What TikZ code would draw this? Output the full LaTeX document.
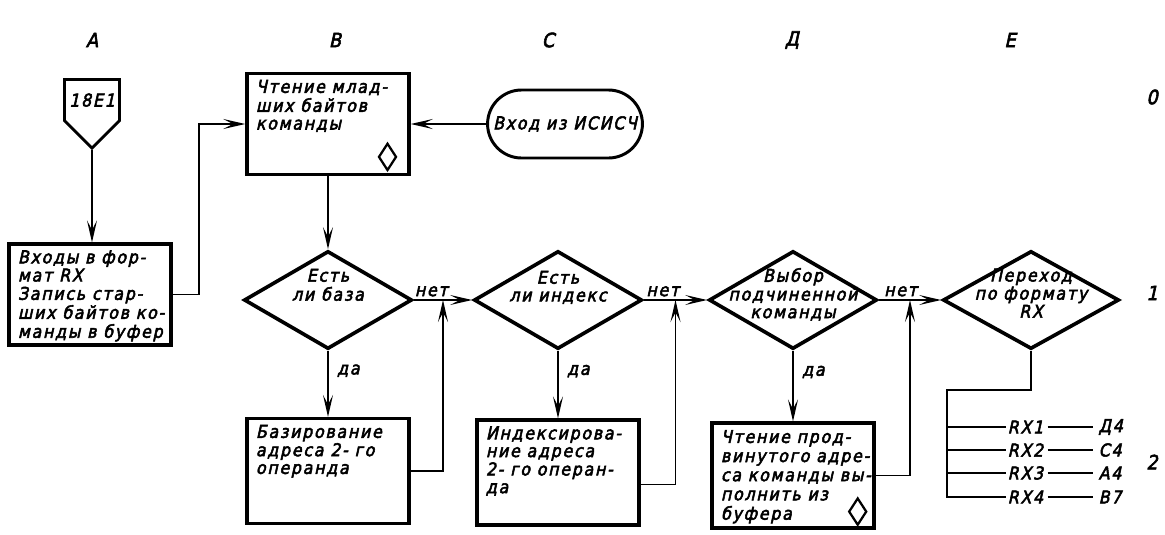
\documentclass[tikz,border=0pt]{standalone}
\usepackage{fontspec}
\newfontfamily\drafting{DejaVu Sans Condensed}[FakeSlant=0.22, FakeBold=3, LetterSpace=10]
\newcommand{\dfont}{\drafting\fontsize{12.5pt}{12.6pt}\selectfont}
\usetikzlibrary{shapes.geometric, shapes.misc, shapes.symbols, arrows.meta, positioning, calc}

% text of a process box: lines from the top left corner
\newcommand{\boxtext}[2][2.2cm]{\parbox[t][#1][t]{3.6cm}{\begin{tabular}{@{}l@{}}#2\end{tabular}}}
% text of a decision: takes no room, so the diamond keeps its size
\newcommand{\dtext}[2][0pt]{\makebox[0pt]{\raisebox{#1}[0pt][0pt]{\begin{tabular}{@{}c@{}}#2\end{tabular}}}}

\begin{document}
\begin{tikzpicture}[
  x=0.025cm, y=-0.025cm,
  every node/.style={font=\dfont},
  proc/.style={
    rectangle, draw, line width=2.4pt,
    inner xsep=0.225cm, inner ysep=0.16cm},
  cond/.style={
    diamond, draw, line width=2.6pt, inner sep=0pt,
    minimum width=4.2cm, minimum height=2.45cm},
  term/.style={
    rounded rectangle, draw, line width=2.1pt,
    minimum width=3.8cm, minimum height=1.7cm},
  offpage/.style={
    signal, signal to=south, signal from=nowhere,
    draw, line width=2pt, minimum width=1.25cm, minimum height=1.72cm},
  diamark/.style={
    diamond, draw, line width=1.6pt, inner sep=0pt,
    minimum width=0.45cm, minimum height=0.68cm},
  arr/.style={-{Stealth[length=5.5mm,width=2.5mm,inset=2.4mm]}, line width=1.2pt},
  conn/.style={line width=1.2pt},
  lbl/.style={inner sep=2pt},
  rxlbl/.style={anchor=west, inner sep=1pt},
  axislbl/.style={inner sep=0pt, font=\drafting\fontsize{14pt}{14pt}\selectfont},
]
\useasboundingbox (0,0) rectangle (1165,534);

% column and row marks
\foreach \c/\x [count=\n] in {A/92, B/335, C/548, Д/792, E/1010}
  \node[axislbl] (col\n) at (\x,40) {\c};
\foreach \r/\y in {0/97, 1/293, 2/462}
  \node[axislbl] (row\r) at (1152,\y) {\r};

% blocks
\node[offpage, anchor=north] (e18) at (92,78) {18E1};
\node[proc] (ent) at (90,294.5)
  {\boxtext{Входы в фор-\\мат RX\\Запись стар-\\ших байтов ко-\\манды в буфер}};
\node[proc] (rdlo) at (328,124)
  {\boxtext{Чтение млад-\\ших байтов\\команды}};
\node[diamark] (rdlomark) at ([xshift=-0.58cm, yshift=0.48cm]rdlo.south east) {};
\node[term] (isisch) at (565,124) {Вход из ИСИСЧ};

\node[cond] (base)   at (328,300) {\dtext[6pt]{Есть\\ли база}};
\node[cond] (index)  at (558,300) {\dtext[5pt]{Есть\\ли индекс}};
\node[cond] (subcmd) at (793,300) {\dtext{Выбор\\подчиненной\\команды}};
\node[cond, minimum width=4.4cm] (fmt) at (1031,300) {\dtext{Переход\\по формату\\RX}};

\node[proc] (based) at (328,471)
  {\boxtext[2.3cm]{Базирование\\адреса 2- го\\операнда}};
\node[proc] (indexd) at (558,472.5)
  {\boxtext[2.3cm]{Индексирова-\\ние адреса\\2- го операн-\\да}};
\node[proc, font=\drafting\fontsize{12.5pt}{13.6pt}\selectfont] (rdadv) at (793,475.5)
  {\boxtext[2.3cm]{Чтение прод-\\винутого адре-\\са команды вы-\\полнить из\\буфера}};
\node[diamark] (rdadvmark) at ([xshift=-0.45cm, yshift=0.45cm]rdadv.south east) {};

\coordinate (j1) at ($(base.east)!0.5!(index.west)$);
\coordinate (j2) at ($(index.east)!0.5!(subcmd.west)$);
\coordinate (j3) at ($(subcmd.east)!0.5!(fmt.west)$);
\coordinate (fork) at (947,390);

% connectors
\draw[arr] (e18.south) -- (e18.south |- ent.north);
\draw[arr] (ent.east) -- ++(26,0) |- (rdlo.west);
\draw[arr] (isisch.west) -- (rdlo.east);
\draw[arr] (rdlo.south) -- (base.north);

\draw[arr] (base.south) -- node[lbl, right=4pt, pos=0.3]{да} (based.north);
\draw[arr] (index.south) -- node[lbl, right=4pt, pos=0.3]{да} (indexd.north);
\draw[arr] (subcmd.south) -- node[lbl, right=4pt, pos=0.3]{да} (rdadv.north);

\draw[arr] (base.east) -- node[lbl, above, pos=0.3]{нет} (index.west);
\draw[arr] (index.east) -- node[lbl, above, pos=0.3]{нет} (subcmd.west);
\draw[arr] (subcmd.east) -- node[lbl, above, pos=0.35]{нет} (fmt.west);

\draw[arr] (based.east) -| (j1);
\draw[arr] ([yshift=-0.3cm]indexd.east) -| (j2);
\draw[arr] (rdadv.east) -| (j3);

% branches of the jump by format
\foreach \i/\y/\t in {1/427/Д4, 2/450/C4, 3/473/A4, 4/497/B7} {
  \node[rxlbl] (rx\i) at (1006,\y) {RX\i};
  \node[rxlbl] (go\i) at (1097,\y) {\t};
  \draw[conn, shorten <=2pt, shorten >=3pt] (rx\i) -- (go\i);
}
\draw[conn] (fmt.south) |- (fork) |- (rx4.west);
\foreach \i in {1,2,3}
  \draw[conn] (fork |- rx\i.west) -- (rx\i.west);

\end{tikzpicture}
\end{document}
